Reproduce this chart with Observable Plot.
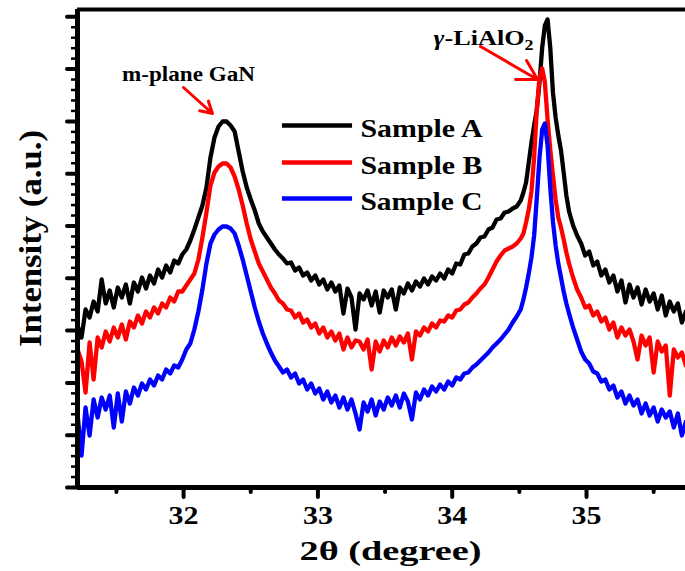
<!DOCTYPE html>
<html><head><meta charset="utf-8">
<script src="https://cdn.jsdelivr.net/npm/d3@7"></script>
<script src="https://cdn.jsdelivr.net/npm/@observablehq/plot@0.6"></script>
<style>
html,body{margin:0;padding:0;background:#fff;}
#chart{width:685px;height:571px;}
</style></head><body><div id="chart"></div>
<script>
// 2θ sample positions (degree)
const twoTheta = [
31.21,31.24,31.27,31.30,31.33,31.36,31.39,31.42,31.45,31.48,
31.51,31.54,31.57,31.60,31.63,31.66,31.69,31.72,31.75,31.78,
31.81,31.84,31.87,31.90,31.93,31.96,31.99,32.02,32.05,32.08,
32.11,32.14,32.17,32.20,32.23,32.26,32.29,32.32,32.35,32.38,
32.41,32.44,32.47,32.50,32.53,32.56,32.59,32.62,32.65,32.68,
32.71,32.74,32.77,32.80,32.83,32.86,32.89,32.92,32.95,32.98,
33.01,33.04,33.07,33.10,33.13,33.16,33.19,33.22,33.25,33.28,
33.31,33.34,33.37,33.40,33.43,33.46,33.49,33.52,33.55,33.58,
33.61,33.64,33.67,33.70,33.73,33.76,33.79,33.82,33.85,33.88,
33.91,33.94,33.97,34.00,34.03,34.06,34.09,34.12,34.15,34.18,
34.21,34.24,34.27,34.30,34.33,34.36,34.39,34.42,34.45,34.48,
34.51,34.53,34.55,34.57,34.59,34.61,34.63,34.65,34.67,34.69,
34.71,34.73,34.75,34.77,34.79,34.81,34.83,34.85,34.87,34.90,
34.93,34.96,34.99,35.02,35.05,35.08,35.11,35.14,35.17,35.20,
35.23,35.26,35.29,35.32,35.35,35.38,35.41,35.44,35.47,35.50,
35.53,35.56,35.59,35.62,35.65,35.68,35.71,35.74
];
// Intensity (a.u.), Sample A
const sampleA = [
162,150,178,170,186,176,208,184,197,180,
200,190,203,184,205,196,210,199,212,204,
218,210,222,215,227,224,233,238,247,258,
270,282,300,330,350,361,366,366,362,356,
336,316,300,288,277,264,256,250,244,238,
233,229,224,225,217,220,212,215,207,212,
203,208,198,205,196,202,174,199,190,158,
194,188,197,182,196,175,197,190,198,178,
200,194,204,197,206,201,209,203,211,207,
214,209,218,214,224,223,233,234,241,244,
250,251,258,260,268,269,275,276,279,281,
287,295,305,325,345,362,378,405,440,462,
468,440,395,370,352,337,315,292,276,262,
252,244,232,236,222,226,212,218,205,212,
196,207,185,203,190,200,183,198,186,194,
178,192,172,186,176,184,165,176
];
// Intensity (a.u.), Sample B
const sampleB = [
138,126,95,145,108,150,140,156,146,160,
150,163,148,166,160,172,164,176,170,180,
174,184,180,190,186,196,196,202,208,214,
228,250,275,302,315,321,324,324,320,311,
298,282,264,248,236,224,216,208,200,194,
187,184,178,177,170,174,165,168,160,164,
154,160,150,156,147,154,138,150,140,147,
146,138,148,118,146,136,147,140,150,142,
151,145,154,128,156,152,160,156,164,160,
167,166,172,170,177,178,183,185,190,194,
199,203,210,218,226,232,237,239,241,244,
249,254,265,278,296,330,378,410,419,405,
368,338,312,288,270,260,248,235,224,210,
198,190,180,182,172,176,166,170,158,165,
150,160,152,158,146,128,152,142,150,115,
146,136,142,92,138,130,135,122
];
// Intensity (a.u.), Sample C
const sampleC = [
74,32,80,52,88,70,90,78,92,60,
94,66,96,84,100,92,104,98,108,102,
112,108,118,114,122,120,128,138,144,158,
176,198,224,244,253,258,261,261,259,254,
242,228,212,196,180,166,154,144,135,127,
121,115,118,110,114,104,108,98,104,94,
99,88,96,85,92,80,90,78,88,74,
58,85,76,88,72,86,78,90,82,92,
80,94,86,68,95,88,98,92,101,96,
103,98,106,102,110,108,114,115,120,123,
127,131,135,140,144,148,153,158,165,171,
178,188,200,214,230,252,290,330,358,364,
342,300,266,242,224,210,196,184,174,160,
148,136,128,124,116,114,106,108,98,102,
90,96,84,92,82,88,74,84,72,80,
66,78,70,76,60,74,52,66
];
const seriesNames = ["Sample A", "Sample B", "Sample C"];
const seriesColors = ["#000000", "#ff0000", "#0000ff"];
const xMajorTicks = [32, 33, 34, 35];
const xMinorTicks = [31.5, 32.5, 33.5, 34.5, 35.5];
const yMajorTicks = [0, 52.3, 104.6, 156.9, 209.2, 261.5, 313.8, 366.1, 418.4, 470.7];
const xTitle = "2θ (degree)";
const yTitle = "Intensity (a.u.)";
const ganLabel = "m-plane GaN";
const liLabel = "γ-LiAlO2";

const yMinorTicks = d3.range(0, 46).map(k => k * 10.46);
const rows = [];
[sampleA, sampleB, sampleC].forEach((arr, s) =>
  arr.forEach((v, i) => rows.push({t: twoTheta[i], v, series: seriesNames[s]})));

const serif = "'Liberation Serif','Times New Roman',Times,serif";
const legendY = [362, 325, 289];

const svg = Plot.plot({
  width: 685, height: 571,
  marginLeft: 77, marginRight: 0, marginTop: 9, marginBottom: 84,
  style: {background: "#fff", color: "#000"},
  x: {domain: [31.21, 35.737]},
  y: {domain: [0, 478]},
  color: {domain: seriesNames, range: seriesColors},
  marks: [
    Plot.line(rows, {x: "t", y: "v", z: "series", stroke: "series", strokeWidth: 4.3, strokeLinejoin: "round", clip: true}),
    Plot.axisX({ticks: xMajorTicks, tickSize: 10, tickPadding: 9, strokeWidth: 4, strokeLinecap: "round",
      fontSize: 25, fontWeight: "bold", fontFamily: serif, label: null, tickFormat: d => String(d)}),
    Plot.axisX({ticks: xMinorTicks, tickSize: 5, strokeWidth: 4, strokeLinecap: "round", label: null, tickFormat: () => ""}),
    Plot.axisY({ticks: yMajorTicks, tickSize: 10, strokeWidth: 4, strokeLinecap: "round", label: null, tickFormat: () => ""}),
    Plot.axisY({ticks: yMinorTicks, tickSize: 6, strokeWidth: 2.5, label: null, tickFormat: () => ""}),
    Plot.ruleX([31.21], {strokeWidth: 5}),
    Plot.ruleY([0], {strokeWidth: 5}),
    Plot.ruleY([478], {strokeWidth: 4}),
    Plot.ruleY(seriesNames, {y: (d, i) => legendY[i], x1: 32.736, x2: 33.258, stroke: d => d, strokeWidth: 4.5}),
    Plot.text(seriesNames, {x: 33.317, y: (d, i) => legendY[i], text: d => d, textAnchor: "start", lineAnchor: "middle",
      dy: 3, fontSize: 25, fontWeight: "bold", fontFamily: serif, fill: "#000"}),
    Plot.text([ganLabel], {x: 32.036, y: 413, text: d => d, fontSize: 20, fontWeight: "bold", fontFamily: serif, lineAnchor: "middle"}),
    Plot.text([liLabel], {x: 33.861, y: 450, text: d => d, textAnchor: "start", fontSize: 22, fontWeight: "bold", fontFamily: serif, lineAnchor: "middle"}),
    Plot.arrow([0], {x1: 31.999, y1: 400, x2: 32.215, y2: 374, stroke: "#ff0000", strokeWidth: 3, headLength: 11}),
    Plot.arrow([0], {x1: 34.211, y1: 441, x2: 34.635, y2: 408, stroke: "#ff0000", strokeWidth: 3, headLength: 11}),
    Plot.text([yTitle], {frameAnchor: "left", dx: -47, dy: -10, rotate: -90, text: d => d, textAnchor: "middle",
      fontSize: 32, fontWeight: "bold", fontFamily: serif, lineAnchor: "middle"}),
    Plot.text([xTitle], {frameAnchor: "bottom", dx: 9, dy: 64, text: d => d, textAnchor: "middle",
      fontSize: 28, fontWeight: "bold", fontFamily: serif, lineAnchor: "middle"})
  ]
});

// text widths measured on the reference
const fitLengths = new Map([
  ["32", 30], ["33", 30], ["34", 30], ["35", 30],
  ["Sample A", 122], ["Sample B", 122], ["Sample C", 122],
  [ganLabel, 133], [liLabel, 100], [xTitle, 182], [yTitle, 217]
]);
const ns = "http://www.w3.org/2000/svg";
svg.querySelectorAll("text").forEach(t => {
  t.setAttribute("font-family", serif);
  t.style.fontFamily = serif;
  t.setAttribute("font-weight", "bold");
  const s = t.textContent.trim();
  if (!fitLengths.has(s)) return;
  if (s === liLabel) {
    t.textContent = "";
    const a = document.createElementNS(ns, "tspan"); a.setAttribute("font-style", "italic"); a.textContent = "γ";
    const b = document.createElementNS(ns, "tspan"); b.textContent = "-LiAlO";
    const c = document.createElementNS(ns, "tspan"); c.setAttribute("font-size", "15"); c.setAttribute("dy", "5"); c.textContent = "2";
    t.append(a, b, c);
  }
  t.setAttribute("textLength", fitLengths.get(s));
  t.setAttribute("lengthAdjust", "spacingAndGlyphs");
});
document.getElementById("chart").appendChild(svg);
</script>
</body></html>
